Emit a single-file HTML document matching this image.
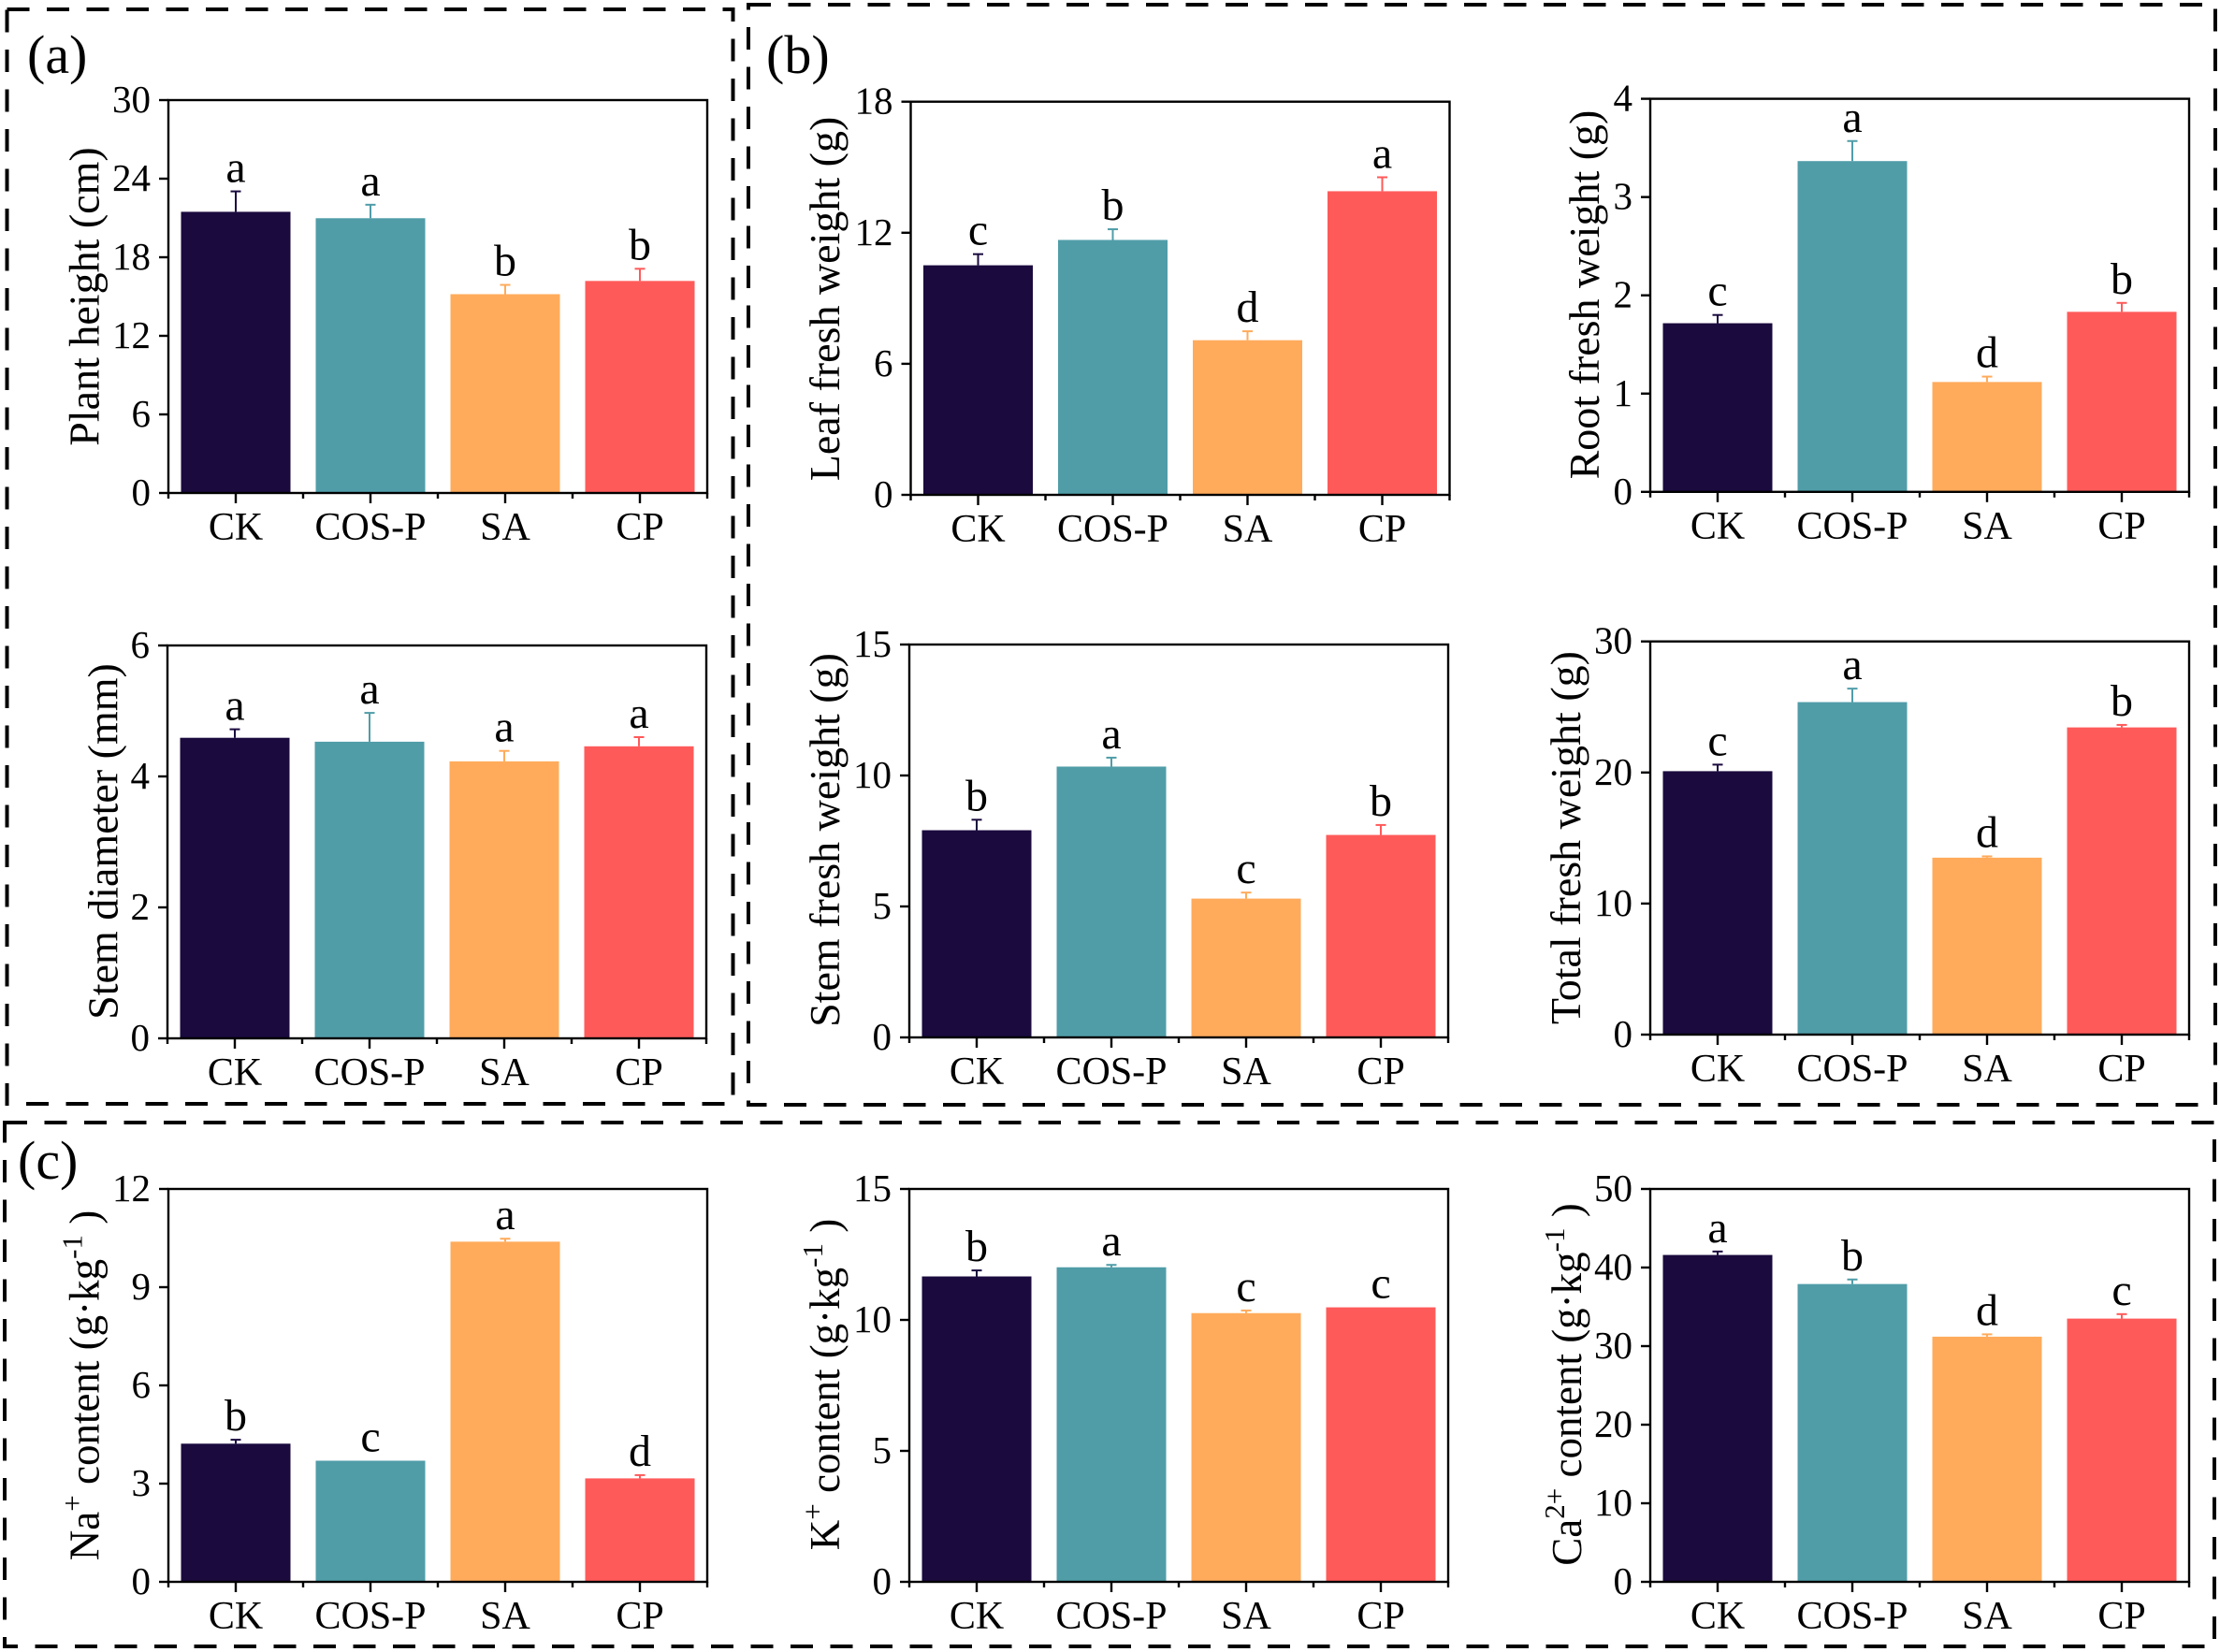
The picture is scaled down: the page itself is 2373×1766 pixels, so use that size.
<!DOCTYPE html>
<html lang="en">
<head>
<meta charset="utf-8">
<title>Plant growth and ion content bar charts</title>
<style>
html,body{margin:0;padding:0;background:#fff}
svg{display:block}
text{font-family:"Liberation Serif",serif;fill:#000}
</style>
</head>
<body>
<svg id="figure" xmlns="http://www.w3.org/2000/svg" width="2373" height="1766" viewBox="0 0 2373 1766">
  <rect x="0" y="0" width="2373" height="1766" fill="#fff"/>
  <rect x="7.5" y="10" width="776" height="1170" fill="none" stroke="#000" stroke-width="4" stroke-dasharray="24 18.5"/>
  <rect x="800" y="5" width="1568" height="1176" fill="none" stroke="#000" stroke-width="4" stroke-dasharray="24 18.5"/>
  <rect x="5" y="1200" width="2362" height="560" fill="none" stroke="#000" stroke-width="4" stroke-dasharray="24 18.5"/>
  <text x="29" y="78" font-size="58">(a)</text>
  <text x="819" y="78" font-size="58">(b)</text>
  <text x="19" y="1260" font-size="58">(c)</text>
</svg>
<script>
const categories = ['CK', 'COS-P', 'SA', 'CP'];

const plantHeightValues = [21.47, 20.98, 15.18, 16.19];
const plantHeightErrorTops = [23.03, 22.01, 15.89, 17.12];
const plantHeightLetters = ['a', 'a', 'b', 'b'];
const plantHeightTicks = [0, 6, 12, 18, 24, 30];

const stemDiameterValues = [4.59, 4.53, 4.23, 4.46];
const stemDiameterErrorTops = [4.72, 4.97, 4.39, 4.60];
const stemDiameterLetters = ['a', 'a', 'a', 'a'];
const stemDiameterTicks = [0, 2, 4, 6];

const leafWeightValues = [10.51, 11.67, 7.08, 13.90];
const leafWeightErrorTops = [11.02, 12.16, 7.49, 14.54];
const leafWeightLetters = ['c', 'b', 'd', 'a'];
const leafWeightTicks = [0, 6, 12, 18];

const rootWeightValues = [1.716, 3.366, 1.118, 1.832];
const rootWeightErrorTops = [1.80, 3.57, 1.173, 1.923];
const rootWeightLetters = ['c', 'a', 'd', 'b'];
const rootWeightTicks = [0, 1, 2, 3, 4];

const stemWeightValues = [7.91, 10.34, 5.30, 7.73];
const stemWeightErrorTops = [8.31, 10.68, 5.53, 8.11];
const stemWeightLetters = ['b', 'a', 'c', 'b'];
const stemWeightTicks = [0, 5, 10, 15];

const totalWeightValues = [20.1, 25.37, 13.5, 23.44];
const totalWeightErrorTops = [20.6, 26.4, 13.6, 23.63];
const totalWeightLetters = ['c', 'a', 'd', 'b'];
const totalWeightTicks = [0, 10, 20, 30];

const sodiumValues = [4.22, 3.70, 10.39, 3.16];
const sodiumErrorTops = [4.34, 3.70, 10.48, 3.26];
const sodiumLetters = ['b', 'c', 'a', 'd'];
const sodiumTicks = [0, 3, 6, 9, 12];

const potassiumValues = [11.66, 12.01, 10.26, 10.48];
const potassiumErrorTops = [11.89, 12.10, 10.36, 10.48];
const potassiumLetters = ['b', 'a', 'c', 'c'];
const potassiumTicks = [0, 5, 10, 15];

const calciumValues = [41.6, 37.9, 31.2, 33.5];
const calciumErrorTops = [42.04, 38.48, 31.5, 34.07];
const calciumLetters = ['a', 'b', 'd', 'c'];
const calciumTicks = [0, 10, 20, 30, 40, 50];

const barColors = ['#1a0a3e', '#509da8', '#ffab5b', '#ff5a5a'];

const SVG_NS = 'http://www.w3.org/2000/svg';
const figure = document.getElementById('figure');

function drawPanel(key, titleParts, titleX, titleY, left, right, top, bottom, values, errorTops, letters, ticks) {
  const maxValue = ticks[ticks.length - 1];
  const yScale = function (v) { return bottom - (v / maxValue) * (bottom - top); };
  const band = (right - left) / categories.length;
  const xScale = function (i) { return left + (i + 0.5) * band; };
  const barWidth = band * 0.8125;

  const group = document.createElementNS(SVG_NS, 'g');
  
  
  figure.appendChild(group);

  categories.forEach(function (cat, i) {
    const cx = xScale(i);
    const bar = document.createElementNS(SVG_NS, 'rect');
    
    
    bar.setAttribute('x', cx - barWidth / 2);
    bar.setAttribute('y', yScale(values[i]));
    bar.setAttribute('width', barWidth);
    bar.setAttribute('height', bottom - yScale(values[i]));
    bar.setAttribute('fill', barColors[i]);
    group.appendChild(bar);

    if (errorTops[i] > values[i]) {
      const stem = document.createElementNS(SVG_NS, 'line');
      
      
      stem.setAttribute('x1', cx);
      stem.setAttribute('x2', cx);
      stem.setAttribute('y1', yScale(values[i]));
      stem.setAttribute('y2', yScale(errorTops[i]));
      stem.setAttribute('stroke', barColors[i]);
      stem.setAttribute('stroke-width', '2');
      group.appendChild(stem);

      const cap = document.createElementNS(SVG_NS, 'line');
      
      
      cap.setAttribute('x1', cx - 5.5);
      cap.setAttribute('x2', cx + 5.5);
      cap.setAttribute('y1', yScale(errorTops[i]));
      cap.setAttribute('y2', yScale(errorTops[i]));
      cap.setAttribute('stroke', barColors[i]);
      cap.setAttribute('stroke-width', '2');
      group.appendChild(cap);
    }

    const letter = document.createElementNS(SVG_NS, 'text');
    
    
    letter.setAttribute('x', cx);
    letter.setAttribute('y', yScale(errorTops[i]) - 10);
    letter.setAttribute('font-size', '48');
    letter.setAttribute('text-anchor', 'middle');
    letter.textContent = letters[i];
    group.appendChild(letter);

    const xLabel = document.createElementNS(SVG_NS, 'text');
    
    
    xLabel.setAttribute('x', cx);
    xLabel.setAttribute('y', bottom + 50);
    xLabel.setAttribute('font-size', '42');
    xLabel.setAttribute('text-anchor', 'middle');
    xLabel.textContent = cat;
    group.appendChild(xLabel);

    const majorTick = document.createElementNS(SVG_NS, 'line');
    
    
    majorTick.setAttribute('x1', cx);
    majorTick.setAttribute('x2', cx);
    majorTick.setAttribute('y1', bottom);
    majorTick.setAttribute('y2', bottom + 11);
    majorTick.setAttribute('stroke', '#000');
    majorTick.setAttribute('stroke-width', '2.4');
    group.appendChild(majorTick);
  });

  for (let i = 0; i <= categories.length; i++) {
    const minorTick = document.createElementNS(SVG_NS, 'line');
    
    
    minorTick.setAttribute('x1', left + i * band);
    minorTick.setAttribute('x2', left + i * band);
    minorTick.setAttribute('y1', bottom);
    minorTick.setAttribute('y2', bottom + 6);
    minorTick.setAttribute('stroke', '#000');
    minorTick.setAttribute('stroke-width', '2.4');
    group.appendChild(minorTick);
  }

  const frame = document.createElementNS(SVG_NS, 'rect');
  
  
  frame.setAttribute('x', left);
  frame.setAttribute('y', top);
  frame.setAttribute('width', right - left);
  frame.setAttribute('height', bottom - top);
  frame.setAttribute('fill', 'none');
  frame.setAttribute('stroke', '#000');
  frame.setAttribute('stroke-width', '2.4');
  group.appendChild(frame);

  ticks.forEach(function (t) {
    const yTick = document.createElementNS(SVG_NS, 'line');
    
    
    yTick.setAttribute('x1', left - 10);
    yTick.setAttribute('x2', left);
    yTick.setAttribute('y1', yScale(t));
    yTick.setAttribute('y2', yScale(t));
    yTick.setAttribute('stroke', '#000');
    yTick.setAttribute('stroke-width', '2.4');
    group.appendChild(yTick);

    const yLabel = document.createElementNS(SVG_NS, 'text');
    
    
    yLabel.setAttribute('x', left - 19);
    yLabel.setAttribute('y', yScale(t) + 13);
    yLabel.setAttribute('font-size', '41');
    yLabel.setAttribute('text-anchor', 'end');
    yLabel.textContent = t;
    group.appendChild(yLabel);
  });

  const title = document.createElementNS(SVG_NS, 'text');
  
  
  title.setAttribute('font-size', titleParts.length > 1 ? '45' : '46');
  title.setAttribute('text-anchor', 'middle');
  title.setAttribute('transform', 'translate(' + titleX + ' ' + titleY + ') rotate(-90)');
  let raised = false;
  titleParts.forEach(function (part, idx) {
    const span = document.createElementNS(SVG_NS, 'tspan');
    const isSup = idx % 2 === 1;
    if (isSup) {
      span.setAttribute('font-size', '31');
      span.setAttribute('dy', '-18');
    } else if (raised) {
      span.setAttribute('dy', '18');
    }
    raised = isSup;
    span.textContent = part;
    title.appendChild(span);
  });
  group.appendChild(title);
}

drawPanel('plant-height', ['Plant height (cm)'], 105.6, 317, 180, 756, 107, 527, plantHeightValues, plantHeightErrorTops, plantHeightLetters, plantHeightTicks);
drawPanel('stem-diameter', ['Stem diameter (mm)'], 125.5, 899.5, 179, 755, 690, 1110, stemDiameterValues, stemDiameterErrorTops, stemDiameterLetters, stemDiameterTicks);
drawPanel('leaf-fresh-weight', ['Leaf fresh weight (g)'], 897, 319.5, 973.5, 1549.5, 108.7, 529, leafWeightValues, leafWeightErrorTops, leafWeightLetters, leafWeightTicks);
drawPanel('root-fresh-weight', ['Root fresh weight (g)'], 1709, 315, 1764, 2340, 105.6, 525.8, rootWeightValues, rootWeightErrorTops, rootWeightLetters, rootWeightTicks);
drawPanel('stem-fresh-weight', ['Stem fresh weight (g)'], 897, 898, 972, 1548, 689, 1109, stemWeightValues, stemWeightErrorTops, stemWeightLetters, stemWeightTicks);
drawPanel('total-fresh-weight', ['Total fresh weight (g)'], 1689, 895.6, 1764, 2340, 685.7, 1106, totalWeightValues, totalWeightErrorTops, totalWeightLetters, totalWeightTicks);
drawPanel('sodium-content', ['Na', '+', ' content (g\u00b7kg', '-1', ' )'], 105.6, 1481, 180, 756, 1271, 1691, sodiumValues, sodiumErrorTops, sodiumLetters, sodiumTicks);
drawPanel('potassium-content', ['K', '+', ' content (g\u00b7kg', '-1', ' )'], 897, 1480, 972, 1548, 1271, 1691, potassiumValues, potassiumErrorTops, potassiumLetters, potassiumTicks);
drawPanel('calcium-content', ['Ca', '2+', ' content (g\u00b7kg', '-1', ' )'], 1690, 1480, 1764, 2340, 1271, 1691, calciumValues, calciumErrorTops, calciumLetters, calciumTicks);
</script>
</body>
</html>
